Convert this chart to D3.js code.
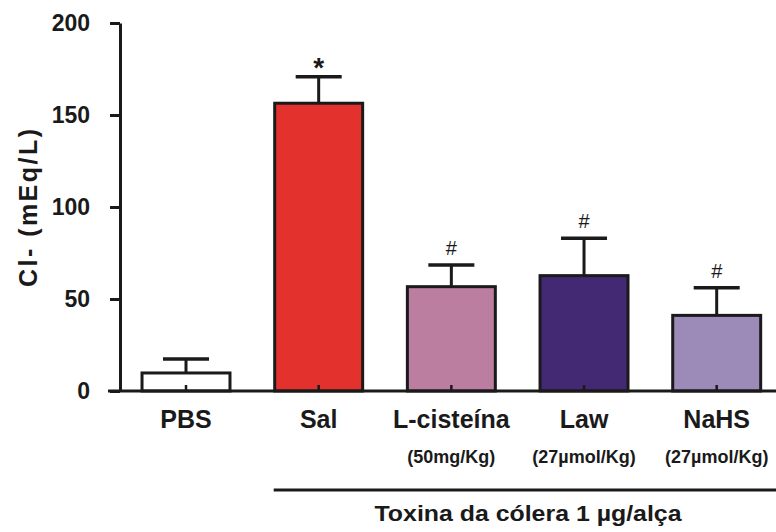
<!DOCTYPE html>
<html>
<head>
<meta charset="utf-8">
<script src="https://cdn.jsdelivr.net/npm/d3@7"></script>
<style>
  body { margin: 0; background: #fff; }
  text { font-family: "Liberation Sans", Arial, Helvetica, sans-serif; font-weight: bold; fill: #1a1a1a; }
</style>
</head>
<body>
<div id="chart"></div>
<script>
const groups = ['PBS', 'Sal', 'L-cisteína', 'Law', 'NaHS'];
const doses = ['', '', '(50mg/Kg)', '(27\u00b5mol/Kg)', '(27\u00b5mol/Kg)'];
const means = [9.8, 156.4, 56.7, 62.7, 41.1];
const sems = [7.6, 14.4, 11.8, 20.3, 15.0];
const marks = ['', '*', '#', '#', '#'];
const colors = ['#ffffff', '#e3322d', '#bc7ea0', '#432874', '#9c8ab8'];
const yTicks = [0, 50, 100, 150, 200];

const width = 776, height = 532;
const INK = '#1a1a1a';

const data = groups.map((g, i) => ({
    name: g, dose: doses[i], mean: means[i], sem: sems[i], mark: marks[i], color: colors[i]
}));

const svg = d3.select('#chart').append('svg')
    .attr('width', width)
    .attr('height', height);

const xScale = d3.scaleBand()
    .domain(groups)
    .range([120, 782.7])
    .paddingInner(0.337)
    .paddingOuter(0.166);

const yScale = d3.scaleLinear()
    .domain([0, 200])
    .range([391, 23]);

// bars
svg.append('g').selectAll('rect').data(data).enter()
    .append('rect')
    .attr('x', d => xScale(d.name))
    .attr('width', xScale.bandwidth())
    .attr('y', d => yScale(d.mean))
    .attr('height', d => yScale(0) - yScale(d.mean))
    .attr('fill', d => d.color)
    .attr('stroke', INK)
    .attr('stroke-width', 3);

// error bars (upper only)
const err = svg.append('g').selectAll('g').data(data).enter()
    .append('g')
    .attr('transform', d => `translate(${xScale(d.name) + xScale.bandwidth() / 2},0)`);
err.append('line')
    .attr('y1', d => yScale(d.mean))
    .attr('y2', d => yScale(d.mean + d.sem))
    .attr('stroke', INK).attr('stroke-width', 3);
err.append('line')
    .attr('x1', -23).attr('x2', 23)
    .attr('y1', d => yScale(d.mean + d.sem))
    .attr('y2', d => yScale(d.mean + d.sem))
    .attr('stroke', INK).attr('stroke-width', 3.5);
err.append('text')
    .attr('text-anchor', 'middle')
    .attr('y', d => yScale(d.mean + d.sem) - (d.mark === '*' ? 0 : 10))
    .style('font-weight', d => d.mark === '*' ? 'bold' : 'normal')
    .style('font-size', d => d.mark === '*' ? '28px' : '20px')
    .text(d => d.mark);

// y axis
const yAxis = svg.append('g')
    .attr('transform', 'translate(120,0)')
    .call(d3.axisLeft(yScale).tickValues(yTicks).tickSize(10).tickPadding(20).tickSizeOuter(0));
yAxis.select('.domain').attr('stroke', INK).attr('stroke-width', 3);
yAxis.selectAll('.tick line').attr('stroke', INK).attr('stroke-width', 3);
yAxis.selectAll('.tick text').style('font-size', '23px').attr('fill', INK);

// x axis
const xAxis = svg.append('g')
    .attr('transform', `translate(0,${yScale(0)})`)
    .call(d3.axisBottom(xScale).tickSize(-6).tickSizeOuter(0).tickFormat(''));
xAxis.select('.domain').remove();
xAxis.append('line')
    .attr('x1', 108).attr('x2', width)
    .attr('stroke', INK).attr('stroke-width', 3);
xAxis.selectAll('.tick line').attr('stroke', INK).attr('stroke-width', 2.5);

// category labels
svg.append('g').selectAll('text').data(data).enter()
    .append('text')
    .attr('x', d => xScale(d.name) + xScale.bandwidth() / 2)
    .attr('y', 428)
    .attr('text-anchor', 'middle')
    .style('font-size', '25px')
    .text(d => d.name);

svg.append('g').selectAll('text').data(data.filter(d => d.dose)).enter()
    .append('text')
    .attr('x', d => Math.min(xScale(d.name) + xScale.bandwidth() / 2, width - 58))
    .attr('y', 463)
    .attr('text-anchor', 'middle')
    .style('font-size', '18px')
    .text(d => d.dose);

// treatment bracket
svg.append('line')
    .attr('x1', xScale('Sal') - 1).attr('x2', width)
    .attr('y1', 490).attr('y2', 490)
    .attr('stroke', INK).attr('stroke-width', 3);
svg.append('text')
    .attr('x', 528).attr('y', 521)
    .attr('text-anchor', 'middle')
    .attr('textLength', 307).attr('lengthAdjust', 'spacingAndGlyphs')
    .style('font-size', '22px')
    .text('Toxina da cólera 1 \u00b5g/alça');

// y label
svg.append('text')
    .attr('transform', 'translate(37,208) rotate(-90)')
    .attr('text-anchor', 'middle')
    .attr('textLength', 158).attr('lengthAdjust', 'spacing')
    .style('font-size', '25px')
    .text('Cl- (mEq/L)');
</script>
</body>
</html>
